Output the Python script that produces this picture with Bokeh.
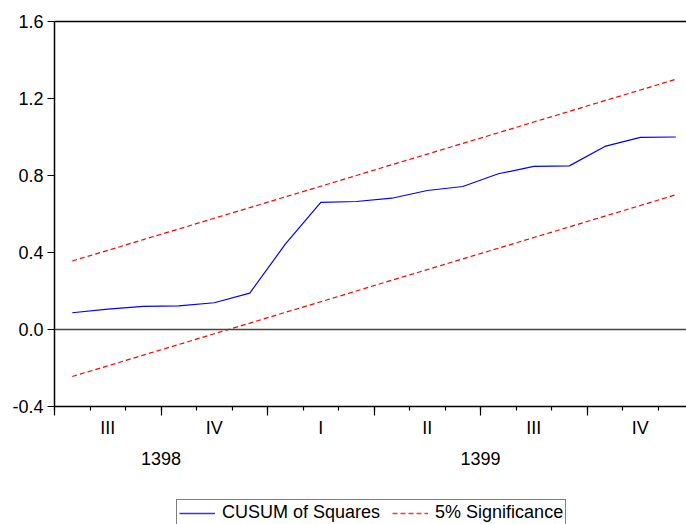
from bokeh.plotting import figure
from bokeh.layouts import column
from bokeh.models import (Range1d, FixedTicker, LinearAxis, Legend,
                          LegendItem, Span, PrintfTickFormatter)
from bokeh.embed import file_html
from bokeh.resources import INLINE

# ---- data ----
periods = ["1398M07", "1398M08", "1398M09", "1398M10", "1398M11", "1398M12",
           "1399M01", "1399M02", "1399M03", "1399M04", "1399M05", "1399M06",
           "1399M07", "1399M08", "1399M09", "1399M10", "1399M11", "1399M12"]
cusum_sq = [0.087, 0.106, 0.120, 0.123, 0.139, 0.189, 0.443, 0.660, 0.665,
            0.682, 0.722, 0.743, 0.809, 0.847, 0.850, 0.951, 0.998, 1.000]
upper_5 = [0.356, 0.411, 0.467, 0.522, 0.578, 0.633, 0.689, 0.744, 0.800,
           0.856, 0.911, 0.967, 1.022, 1.078, 1.133, 1.189, 1.244, 1.300]
lower_5 = [-0.244, -0.189, -0.133, -0.078, -0.022, 0.033, 0.089, 0.144, 0.200,
           0.256, 0.311, 0.367, 0.422, 0.478, 0.533, 0.589, 0.644, 0.700]
quarter_labels = ["III", "IV", "I", "II", "III", "IV"]
y_ticks = [-0.4, 0.0, 0.4, 0.8, 1.2, 1.6]

FONT = "Liberation Sans"
FS = "18px"

n = len(periods)
x = [i + 0.5 for i in range(n)]

p = figure(width=686, height=490, output_backend="svg", toolbar_location=None,
           x_range=Range1d(0, 17.8), y_range=Range1d(-0.4, 1.6),
           min_border_left=54, min_border_right=0, min_border_top=21,
           min_border_bottom=84)
p.xgrid.visible = False
p.ygrid.visible = False
p.outline_line_color = None
p.background_fill_color = "white"
p.border_fill_color = "white"

# bottom axis A: monthly minor ticks, quarterly major ticks, no labels
xa = p.xaxis[0]
xa.ticker = FixedTicker(ticks=list(range(0, n + 1, 3)),
                        minor_ticks=list(range(0, n + 1)))
xa.major_tick_out = 9
xa.major_tick_in = 0
xa.minor_tick_out = 4
xa.minor_tick_in = 0
xa.major_label_text_font_size = "0px"
xa.major_label_text_color = None
xa.major_label_standoff = 0
xa.axis_line_color = "black"
xa.axis_line_width = 1.5
xa.major_tick_line_color = "black"
xa.minor_tick_line_color = "black"
xa.major_tick_line_width = 1.2
xa.minor_tick_line_width = 1.2

# axis B: quarter labels centred in each quarter
q_ticks = [qi * 3 + 1.5 for qi in range(len(quarter_labels))]
xb = LinearAxis(ticker=FixedTicker(ticks=q_ticks, minor_ticks=[]),
                major_label_overrides={t: lab for t, lab in zip(q_ticks, quarter_labels)},
                major_tick_out=0, major_tick_in=0, minor_tick_out=0, minor_tick_in=0,
                axis_line_color=None, major_tick_line_color=None,
                minor_tick_line_color=None, major_label_standoff=2,
                major_label_text_font=FONT, major_label_text_font_size=FS,
                major_label_text_color="black")
p.add_layout(xb, "below")

# axis C: year labels centred on the months of each year
years = sorted(set(s[:4] for s in periods))
y_pos = []
for yr in years:
    idx = [i for i, s in enumerate(periods) if s.startswith(yr)]
    y_pos.append((idx[0] + idx[-1] + 1) / 2)
xc = LinearAxis(ticker=FixedTicker(ticks=y_pos, minor_ticks=[]),
                major_label_overrides={t: yr for t, yr in zip(y_pos, years)},
                major_tick_out=0, major_tick_in=0, minor_tick_out=0, minor_tick_in=0,
                axis_line_color=None, major_tick_line_color=None,
                minor_tick_line_color=None, major_label_standoff=11,
                major_label_text_font=FONT, major_label_text_font_size=FS,
                major_label_text_color="black")
p.add_layout(xc, "below")

# left axis
ya = p.yaxis[0]
ya.ticker = FixedTicker(ticks=y_ticks)
ya.formatter = PrintfTickFormatter(format="%.1f")
ya.major_tick_out = 7
ya.major_tick_in = 0
ya.minor_tick_line_color = None
ya.major_label_standoff = 4
ya.major_label_text_font = FONT
ya.major_label_text_font_size = FS
ya.major_label_text_color = "black"
ya.axis_line_color = "black"
ya.axis_line_width = 1.5
ya.major_tick_line_color = "black"
ya.major_tick_line_width = 1.2

# top frame line
top = LinearAxis(ticker=FixedTicker(ticks=[]), major_tick_out=0, major_tick_in=0,
                 minor_tick_out=0, minor_tick_in=0, major_label_text_font_size="0px",
                 major_label_text_color=None,
                 axis_line_color="black", axis_line_width=1.5)
p.add_layout(top, "above")

# zero line
p.add_layout(Span(location=0, dimension="width", line_color="#444444", line_width=1.5))

blue = p.line(x, cusum_sq, line_color="#0000FF", line_width=1.2)
up = p.line(x, upper_5, line_color="#FF0000", line_width=1.2, line_dash="5 3")
lo = p.line(x, lower_5, line_color="#FF0000", line_width=1.2, line_dash="5 3")

# ---- legend strip below the chart ----
pl = figure(width=686, height=34, output_backend="svg", toolbar_location=None,
            x_range=Range1d(0, 17.8), y_range=Range1d(100, 101),
            x_axis_location=None, y_axis_location=None,
            min_border_left=0, min_border_right=0, min_border_top=0,
            min_border_bottom=0)
pl.xgrid.visible = False
pl.ygrid.visible = False
pl.outline_line_color = None
pl.background_fill_color = "white"
pl.border_fill_color = "white"
lb = pl.line(x, cusum_sq, line_color="#3333FF", line_width=1.3)
lr = pl.line(x, upper_5, line_color="#FF3333", line_width=1.3, line_dash="5 3")

legend = Legend(items=[LegendItem(label="CUSUM of Squares", renderers=[lb]),
                       LegendItem(label="5% Significance", renderers=[lr])],
                location=(122, -2), orientation="horizontal",
                glyph_width=36, glyph_height=16, label_height=16,
                label_standoff=7, spacing=12, padding=2, margin=0,
                border_line_color="black", border_line_width=1,
                label_text_font=FONT, label_text_font_size=FS,
                label_text_color="black", background_fill_color="white",
                background_fill_alpha=1.0)
pl.add_layout(legend, "center")

layout = column(p, pl, spacing=0)
open("out.html", "w").write(file_html(layout, INLINE))
